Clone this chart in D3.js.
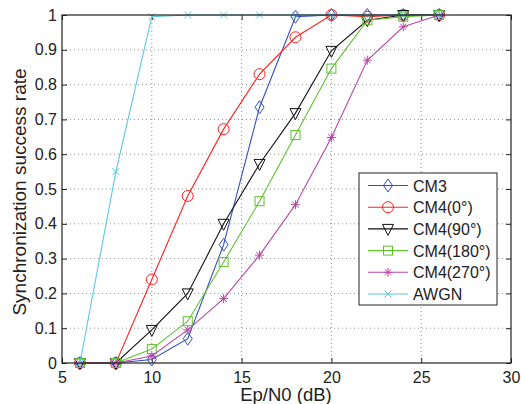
<!DOCTYPE html>
<html>
<head>
<meta charset="utf-8">
<script src="https://cdn.jsdelivr.net/npm/d3@7"></script>
<style>
  body { margin: 0; background: #fff; }
  text { font-family: "Liberation Sans", Arial, sans-serif; }
</style>
</head>
<body>
<div id="chart"></div>
<script>
const snr = [6, 8, 10, 12, 14, 16, 18, 20, 22, 24, 26];
const cm3 = [0, 0, 0.01, 0.07, 0.34, 0.735, 0.995, 1, 1, 1, 1];
const cm4_0 = [0, 0, 0.24, 0.48, 0.672, 0.83, 0.936, 1, 0.995, 1, 1];
const cm4_90 = [0, 0, 0.095, 0.2, 0.4, 0.572, 0.718, 0.897, 0.985, 1, 1];
const cm4_180 = [0, 0, 0.04, 0.12, 0.29, 0.465, 0.655, 0.846, 0.985, 0.995, 1];
const cm4_270 = [0, 0, 0.02, 0.095, 0.185, 0.31, 0.455, 0.648, 0.87, 0.966, 1];
const awgn = [0, 0.55, 0.995, 1, 1, 1, 1, 1, 1, 1, 1];
const xTicks = [5, 10, 15, 20, 25, 30];
const yTicks = [0, 0.1, 0.2, 0.3, 0.4, 0.5, 0.6, 0.7, 0.8, 0.9, 1];

const series = [
  {name: "CM3", values: cm3, color: "#3050c0", marker: "diamond"},
  {name: "CM4(0°)", values: cm4_0, color: "#ff2020", marker: "circle"},
  {name: "CM4(90°)", values: cm4_90, color: "#111111", marker: "tri"},
  {name: "CM4(180°)", values: cm4_180, color: "#60c030", marker: "square"},
  {name: "CM4(270°)", values: cm4_270, color: "#b848a8", marker: "star"},
  {name: "AWGN", values: awgn, color: "#5cc8dc", marker: "x"}
];

const margin = {top: 15, right: 10, bottom: 41, left: 62};
const W = 521, H = 404;
const width = W - margin.left - margin.right;
const height = H - margin.top - margin.bottom;

const svg = d3.select("#chart").append("svg")
    .attr("width", W)
    .attr("height", H);
const g = svg.append("g")
    .attr("transform", "translate(" + margin.left + "," + margin.top + ")");

const x = d3.scaleLinear().domain([5, 30]).range([0, width]);
const y = d3.scaleLinear().domain([0, 1]).range([height, 0]);

// grid
g.selectAll(".vgrid").data(xTicks.slice(1, -1)).enter().append("line")
    .attr("x1", d => x(d)).attr("x2", d => x(d))
    .attr("y1", 0).attr("y2", height)
    .attr("stroke", "#777").attr("stroke-width", 0.8)
    .attr("stroke-dasharray", "1,3");
g.selectAll(".hgrid").data(yTicks.slice(1, -1)).enter().append("line")
    .attr("x1", 0).attr("x2", width)
    .attr("y1", d => y(d)).attr("y2", d => y(d))
    .attr("stroke", "#777").attr("stroke-width", 0.8)
    .attr("stroke-dasharray", "1,3");

// axes with inward ticks
const fmt = d => d === 0 || d === 1 ? d3.format("d")(d) : d3.format(".1f")(d);
const styleAxis = sel => {
  sel.select(".domain").remove();
  sel.selectAll("text").attr("font-size", 16).attr("fill", "#222")
     .style("font-family", "'Liberation Sans', Arial, sans-serif");
  sel.selectAll("line").attr("stroke", "#222");
};
g.append("g").attr("transform", "translate(0," + height + ")")
  .call(d3.axisBottom(x).tickValues(xTicks).tickSizeInner(-5).tickSizeOuter(0).tickPadding(9))
  .call(styleAxis);
g.append("g")
  .call(d3.axisLeft(y).tickValues(yTicks).tickFormat(fmt).tickSizeInner(-5).tickSizeOuter(0).tickPadding(5))
  .call(styleAxis);
g.append("g")
  .call(d3.axisTop(x).tickValues(xTicks).tickSizeInner(-5).tickSizeOuter(0).tickFormat(""))
  .call(styleAxis);
g.append("g").attr("transform", "translate(" + width + ",0)")
  .call(d3.axisRight(y).tickValues(yTicks).tickSizeInner(-5).tickSizeOuter(0).tickFormat(""))
  .call(styleAxis);

const line = d3.line().x((d, i) => x(snr[i])).y(d => y(d));

function drawMarker(sel, type, color) {
  const s = 5.5;
  if (type === "diamond") {
    sel.append("path").attr("d", `M0,${-s-1}L${s-1},0L0,${s+1}L${-s+1},0Z`)
      .attr("fill", "none").attr("stroke", color).attr("stroke-width", 1);
  } else if (type === "circle") {
    sel.append("circle").attr("r", s).attr("fill", "none").attr("stroke", color).attr("stroke-width", 1);
  } else if (type === "tri") {
    sel.append("path").attr("d", `M${-s},${-s+1}L${s},${-s+1}L0,${s+1}Z`)
      .attr("fill", "none").attr("stroke", color).attr("stroke-width", 1);
  } else if (type === "square") {
    sel.append("rect").attr("x", -4.5).attr("y", -4.5).attr("width", 9).attr("height", 9)
      .attr("fill", "none").attr("stroke", color).attr("stroke-width", 1);
  } else if (type === "star") {
    const r = 4.5;
    sel.append("path")
      .attr("d", `M${-r},0L${r},0M0,${-r}L0,${r}M${-r*0.7},${-r*0.7}L${r*0.7},${r*0.7}M${-r*0.7},${r*0.7}L${r*0.7},${-r*0.7}`)
      .attr("stroke", color).attr("stroke-width", 1);
  } else if (type === "x") {
    const r = 3.5;
    sel.append("path").attr("d", `M${-r},${-r}L${r},${r}M${-r},${r}L${r},${-r}`)
      .attr("stroke", color).attr("stroke-width", 1);
  }
}

series.forEach(s => {
  g.append("path").datum(s.values)
    .attr("fill", "none").attr("stroke", s.color).attr("stroke-width", 1.1)
    .attr("d", line);
  s.values.forEach((v, i) => {
    const m = g.append("g").attr("transform", "translate(" + x(snr[i]) + "," + y(v) + ")");
    drawMarker(m, s.marker, s.color);
  });
});

// frame
g.append("rect").attr("width", width).attr("height", height)
  .attr("fill", "none").attr("stroke", "#222").attr("stroke-width", 1.2);

// legend
const lg = svg.append("g").attr("transform", "translate(359,173)");
lg.append("rect").attr("width", 138).attr("height", 132)
  .attr("fill", "#fff").attr("stroke", "#222").attr("stroke-width", 1);
series.forEach((s, i) => {
  const yy = 12.5 + i * 21.7;
  lg.append("line").attr("x1", 9).attr("x2", 49).attr("y1", yy).attr("y2", yy)
    .attr("stroke", s.color).attr("stroke-width", 1.1);
  const m = lg.append("g").attr("transform", "translate(29," + yy + ")");
  drawMarker(m, s.marker, s.color);
  lg.append("text").attr("x", 54).attr("y", yy + 6)
    .attr("font-size", 16).attr("fill", "#222").text(s.name);
});

// axis labels
svg.append("text")
  .attr("x", 286).attr("y", 401)
  .attr("text-anchor", "middle").attr("font-size", 18.5).attr("fill", "#222")
  .text("Ep/N0 (dB)");
svg.append("text")
  .attr("transform", "translate(26,192) rotate(-90)")
  .attr("text-anchor", "middle").attr("font-size", 19).attr("fill", "#222")
  .text("Synchronization success rate");
</script>
</body>
</html>
